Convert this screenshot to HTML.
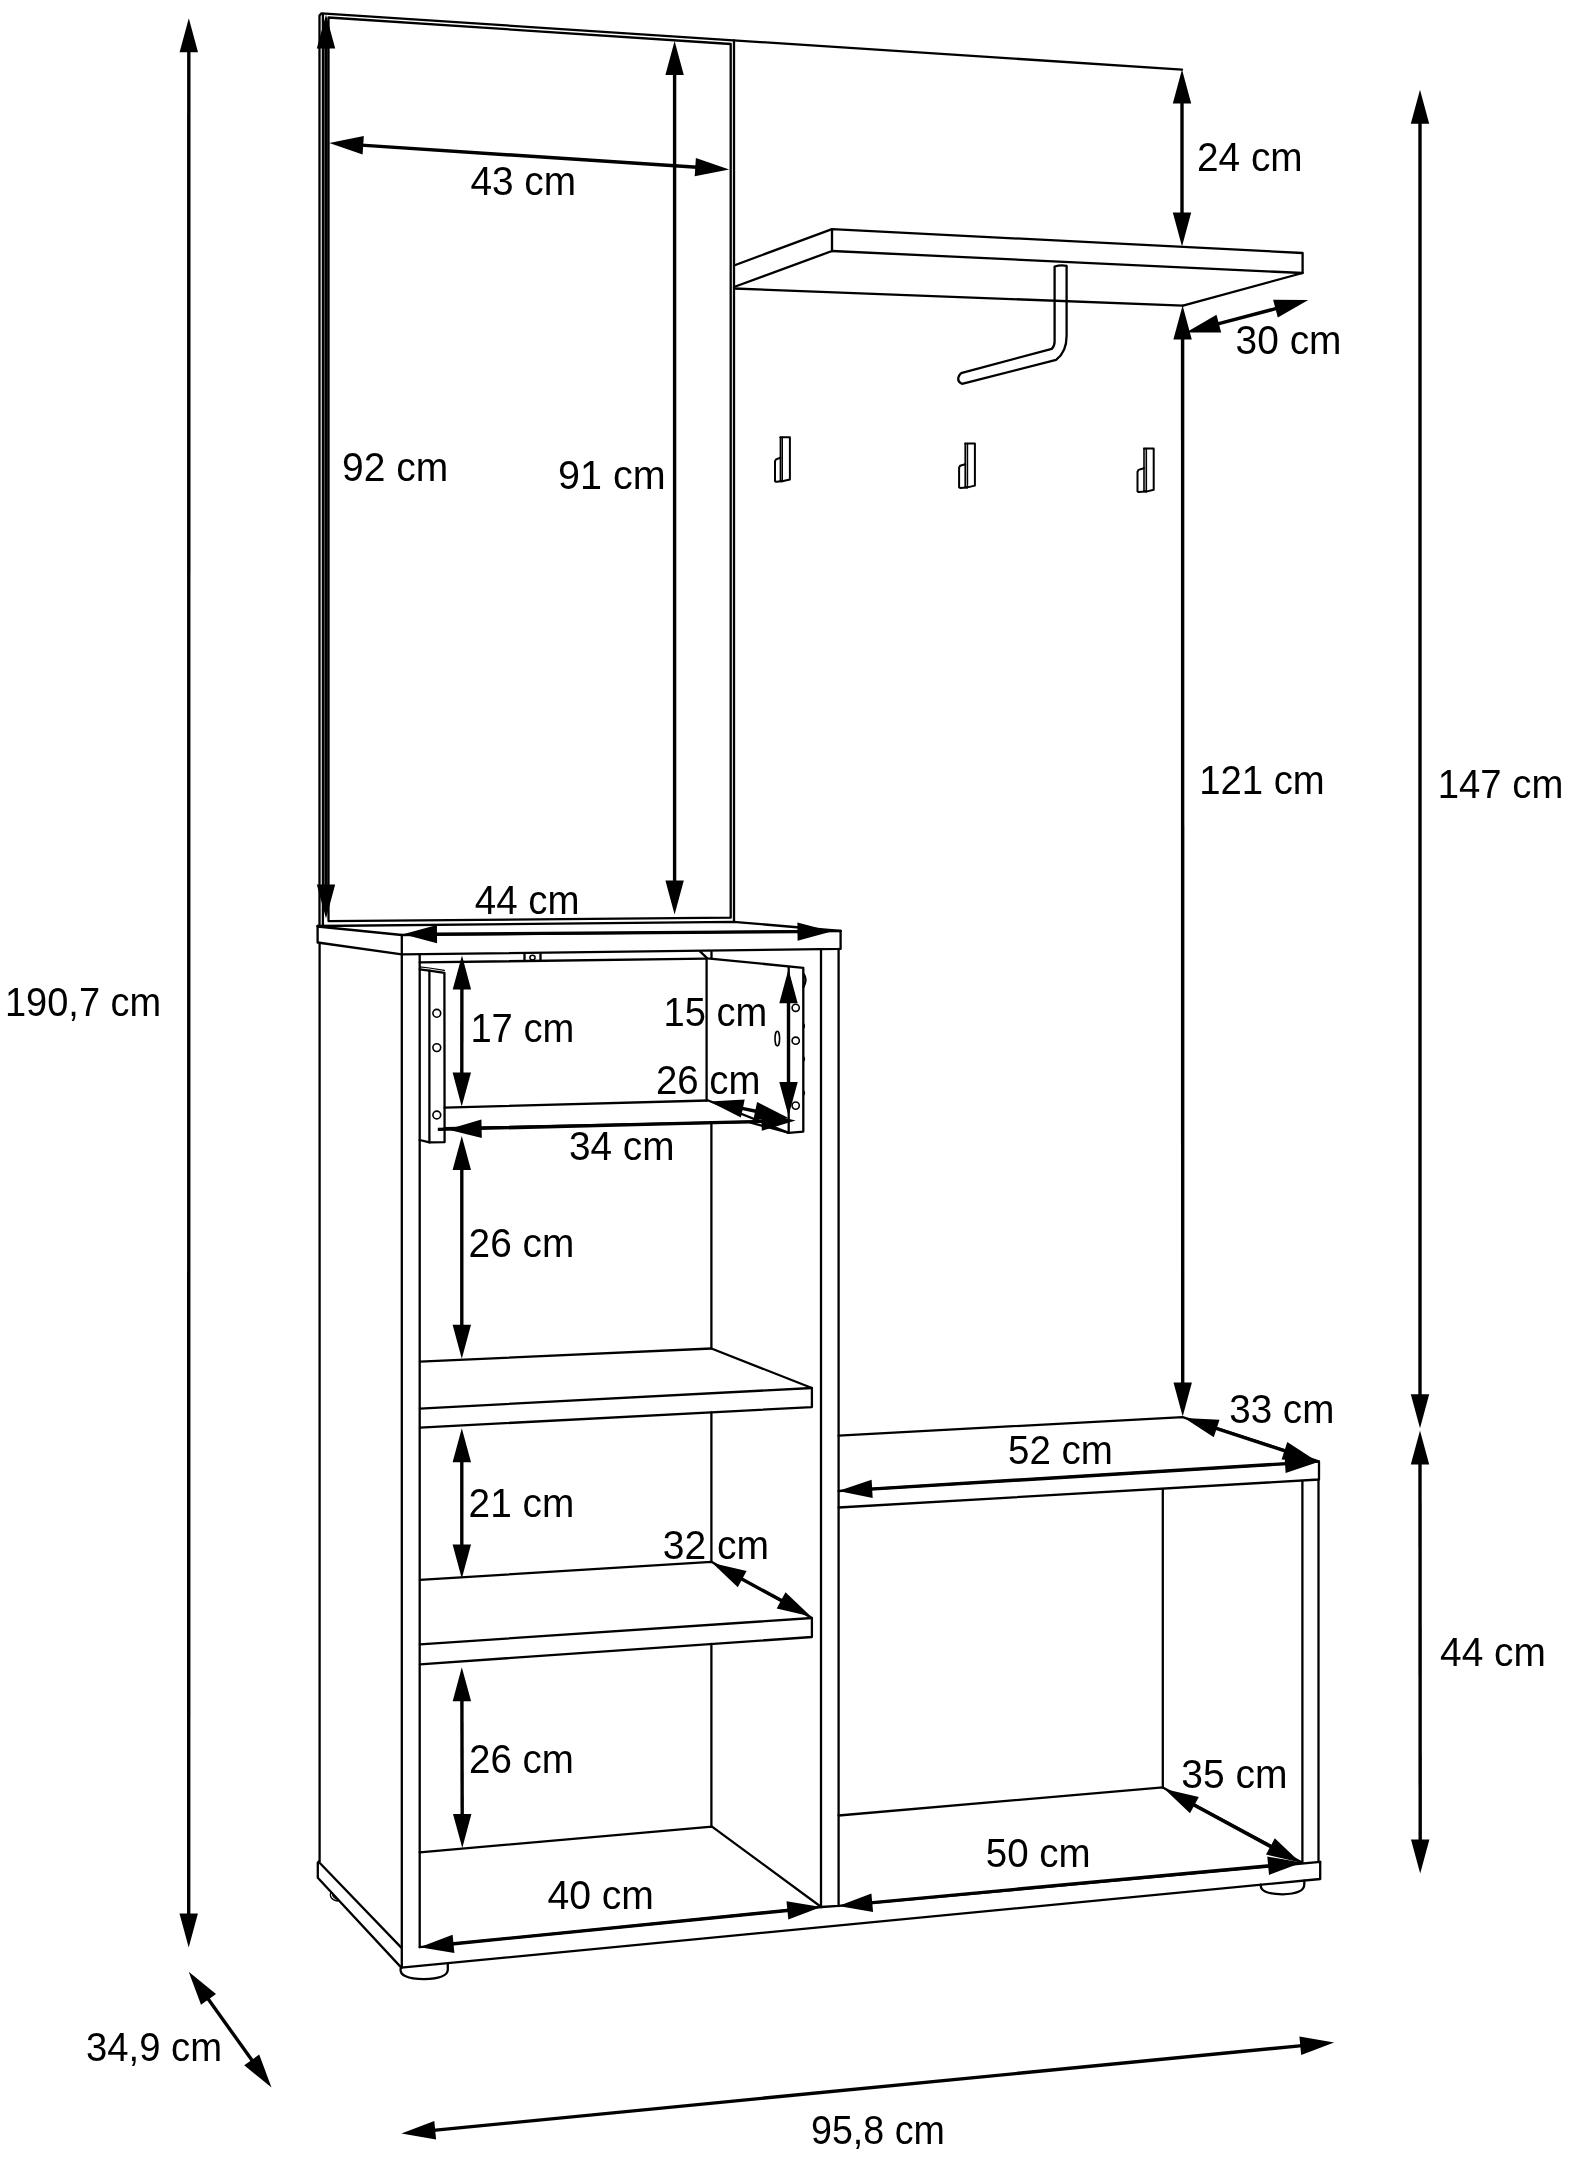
<!DOCTYPE html>
<html><head><meta charset="utf-8"><title>Dimensions</title>
<style>
html,body{margin:0;padding:0;background:#fff;}
body{width:1570px;height:2162px;overflow:hidden;}
svg{display:block;filter:grayscale(1);}
.o path,.o circle,.o ellipse{fill:none;stroke:#000;stroke-linejoin:round;stroke-linecap:round;}
.o path.a{stroke-linecap:butt;}
.o path.h{fill:#000;stroke:none;}
.t text{font-family:"Liberation Sans",sans-serif;fill:#000;}
</style></head><body>
<svg width="1570" height="2162" viewBox="0 0 1570 2162">
<rect width="1570" height="2162" fill="#fff"/>
<g class="o" stroke-width="2.3">
<path d="M319.5,925.7 L319.5,15.5 L321.5,13.4 L1182,69.6"/>
<path d="M322.9,925.7 L322.9,15"/>
<path d="M328.5,921.1 L328.5,17.5 L730.7,44 L730.7,917.7Z"/>
<path d="M734,40.4 L734,921.8"/>
<path d="M317.6,926 L733.6,921.8 L840.6,931"/>
<path d="M734,265.5 L832,229.1 L1302.6,253 L1302.6,273 L1183,305.6"/>
<path d="M734,287 L832,251 L1302.6,273"/>
<path d="M832,229.1 L832,251.3"/>
<path d="M734,288.5 L1183,305.6"/>
<path d="M1054.6,266.5 Q1060.6,264.8 1066.6,265.8 L1066.6,336 Q1066.6,352 1056.1,359.9 L962,383.8 Q957.5,382 958.4,377.5 Q959.5,373.8 962,372.8 L1051.8,348.9 Q1054.6,346 1054.6,341.7 Z" fill="#fff"/>
<path d="M780.4,437.2 L789.9,437.2 L789.9,479.5 L782.2,481.3 L780.4,480.8" stroke-width="2"/>
<path d="M780.4,437.2 L780.4,480.3" stroke-width="1.6"/>
<path d="M782.2,437.2 L782.2,481.3" stroke-width="1.6"/>
<path d="M780.4,457.8 L776,459.4 L775,461.2 L775,481.2 L776,481.8 L782.2,481.3" stroke-width="2"/>
<path d="M965.2,443.5 L974.9,443.5 L974.9,485.6 L967.4,487.4 L965.2,486.9" stroke-width="2"/>
<path d="M965.2,443.5 L965.2,486.4" stroke-width="1.6"/>
<path d="M967.4,443.5 L967.4,487.4" stroke-width="1.6"/>
<path d="M965.2,464.2 L960.1,465.8 L959.1,467.6 L959.1,487.3 L960.1,487.9 L967.4,487.4" stroke-width="2"/>
<path d="M1144,448.6 L1153.7,448.6 L1153.7,489.8 L1146.3,491.6 L1144,491.1" stroke-width="2"/>
<path d="M1144,448.6 L1144,490.6" stroke-width="1.6"/>
<path d="M1146.3,448.6 L1146.3,491.6" stroke-width="1.6"/>
<path d="M1144,468.3 L1138.5,469.9 L1137.5,471.7 L1137.5,491.5 L1138.5,492.1 L1146.3,491.6" stroke-width="2"/>
<path d="M317.6,926 L317.6,942.5 L401.8,954.4 L840.6,948.9 L840.6,931"/>
<path d="M317.6,926.5 L401.8,935 L840.6,931"/>
<path d="M401.8,935 L401.8,1967.6"/>
<path d="M319.6,943 L319.6,1861.2"/>
<path d="M419.7,954.5 L419.7,1947.2"/>
<path d="M821,949.6 L821,1907"/>
<path d="M838.6,949 L838.6,1906"/>
<path d="M419.7,962.4 L705.9,958.7"/>
<path d="M700.3,951.7 L707.3,958.4 L803.3,967.8 L803.3,1131.6 L788.7,1132.8"/>
<path d="M711.5,952 L711.5,958.2"/>
<path d="M524.5,954.6 L524.5,960.7"/>
<path d="M540.5,954.4 L540.5,960.5"/>
<ellipse cx="532.5" cy="957.6" rx="2.6" ry="2.4" stroke-width="1.5"/>
<path d="M706.6,958.7 L706.6,1100.5"/>
<path d="M419.7,969.3 L429.4,970.6 L444.4,972.8 L444.6,1142.2 L429.4,1142.4 L419.7,1140"/>
<path d="M419.7,966.8 L429.4,968 L444.4,970.3" stroke-width="1.2"/>
<path d="M429.4,970.6 L429.4,1142.4"/>
<circle cx="436.8" cy="1013.3" r="3.9" stroke-width="1.6"/>
<circle cx="436.8" cy="1047.6" r="3.9" stroke-width="1.6"/>
<circle cx="436.8" cy="1115" r="3.9" stroke-width="1.6"/>
<path d="M788.7,967.4 L788.7,1132.8"/>
<circle cx="795.7" cy="1007.8" r="3.6" stroke-width="1.6"/>
<circle cx="795.7" cy="1040.7" r="3.6" stroke-width="1.6"/>
<circle cx="795.7" cy="1105.6" r="3.6" stroke-width="1.6"/>
<ellipse cx="777.3" cy="1038.6" rx="2.3" ry="7.3" stroke-width="1.6"/>
<path d="M803.6,974 Q807.5,979 803.6,987" stroke-width="2.2"/>
<path d="M803.6,1024 q1.6,2 0,4" stroke-width="1.5"/>
<path d="M803.6,1057 q1.6,2 0,4" stroke-width="1.5"/>
<path d="M803.6,1091 q1.6,2 0,4" stroke-width="1.5"/>
<path d="M444.6,1107.6 L708.3,1100.5 L787.9,1132.6"/>
<path d="M444.6,1128.2 L748,1122 L788.5,1132.6"/>
<path d="M711.4,1124.4 L711.4,1348.5"/>
<path d="M711.4,1412.4 L711.4,1561.8"/>
<path d="M711.4,1644 L711.4,1826.6"/>
<path d="M419.9,1361.7 L711.4,1348.5 L811.9,1388 L811.9,1407.1 L419.9,1427.6"/>
<path d="M419.9,1408.6 L811.9,1388"/>
<path d="M419.9,1579.9 L711.4,1561.8 L811.9,1618 L811.9,1637 L419.9,1664.3"/>
<path d="M419.9,1644.4 L811.9,1618"/>
<path d="M419.7,1852.3 L712,1826.6 L821.2,1907"/>
<path d="M419.7,1947.2 L821.2,1907 L838.4,1905.9 L1320.2,1861.9"/>
<path d="M319.1,1861.2 L317.8,1862.6 L317.8,1877.8 L401.3,1967.6 L1320.2,1879 L1320.2,1861.9"/>
<path d="M319.1,1862.3 L401.3,1947.6"/>
<path d="M400.6,1968.6 Q399,1978.6 424,1979.2 Q447.6,1978.6 447.8,1969.8 L447.8,1963.5"/>
<path d="M330.9,1891.6 Q328.3,1899.5 337.8,1901.2 L338.4,1899.6 Q331.6,1898 332.6,1893.2 Z" stroke-width="1.2" fill="#000"/>
<path d="M1260.8,1884.6 Q1259.6,1894 1282.5,1894.3 Q1304.5,1894 1304.3,1884 L1304.3,1880.6"/>
<path d="M838.6,1435.6 L1182.7,1417.1 L1318.8,1461.4"/>
<path d="M838.6,1491 L1319,1461.7 L1319,1479.5 L838.6,1507.5"/>
<path d="M1162.8,1489.7 L1162.8,1787.4"/>
<path d="M1302.4,1481.4 L1302.4,1862.6"/>
<path d="M1318.5,1479.5 L1318.5,1862"/>
<path d="M838.6,1815.5 L1162.8,1787.4 L1302,1862.6"/>
<path class="a" d="M188.8,50.2 L188.7,1915.5" stroke-width="3.4"/>
<path class="h" d="M188.7,1947.5 L179.5,1913.5 L197.9,1913.5Z"/>
<path class="h" d="M188.8,18.2 L198,52.2 L179.6,52.2Z"/>
<path class="a" d="M326,46.6 L326,886.6" stroke-width="3.4"/>
<path class="h" d="M326,918.6 L316.8,884.6 L335.2,884.6Z"/>
<path class="h" d="M326,14.6 L335.2,48.6 L316.8,48.6Z"/>
<path class="a" d="M361.2,145.1 L697.3,167.3" stroke-width="3.4"/>
<path class="h" d="M729.2,169.4 L694.7,176.3 L695.9,158Z"/>
<path class="h" d="M329.3,143 L363.8,136.1 L362.6,154.4Z"/>
<path class="a" d="M674.6,73 L674.6,882.6" stroke-width="3.4"/>
<path class="h" d="M674.6,914.6 L665.4,880.6 L683.8,880.6Z"/>
<path class="h" d="M674.6,41 L683.8,75 L665.4,75Z"/>
<path class="a" d="M1182,101.6 L1182,214.4" stroke-width="3.4"/>
<path class="h" d="M1182,246.4 L1172.8,212.4 L1191.2,212.4Z"/>
<path class="h" d="M1182,69.6 L1191.2,103.6 L1172.8,103.6Z"/>
<path class="a" d="M1216.9,324.2 L1277.4,308.2" stroke-width="3.4"/>
<path class="h" d="M1308.3,300 L1277.8,317.6 L1273.1,299.8Z"/>
<path class="h" d="M1186,332.4 L1216.5,314.8 L1221.2,332.6Z"/>
<path class="a" d="M1182.6,337.6 L1182.7,1384.4" stroke-width="3.4"/>
<path class="h" d="M1182.7,1416.4 L1173.5,1382.4 L1191.9,1382.4Z"/>
<path class="h" d="M1182.6,305.6 L1191.8,339.6 L1173.4,339.6Z"/>
<path class="a" d="M1420,121.8 L1420,1396.3" stroke-width="3.4"/>
<path class="h" d="M1420,1428.3 L1410.8,1394.3 L1429.2,1394.3Z"/>
<path class="h" d="M1420,89.8 L1429.2,123.8 L1410.8,123.8Z"/>
<path class="a" d="M1420,1462.5 L1420.2,1841.5" stroke-width="3.4"/>
<path class="h" d="M1420.2,1873.5 L1411,1839.5 L1429.4,1839.5Z"/>
<path class="h" d="M1420,1430.5 L1429.2,1464.5 L1410.8,1464.5Z"/>
<path class="a" d="M435,934.1 L799.5,931.6" stroke-width="3.4"/>
<path class="h" d="M831.5,931.4 L797.6,940.8 L797.4,922.4Z"/>
<path class="h" d="M403,934.3 L436.9,924.9 L437.1,943.3Z"/>
<path class="a" d="M461.9,987.5 L461.8,1074.5" stroke-width="3.4"/>
<path class="h" d="M461.7,1106.5 L452.6,1072.5 L471,1072.5Z"/>
<path class="h" d="M462,955.5 L471.1,989.5 L452.7,989.5Z"/>
<path class="a" d="M788.5,1001.2 L788.5,1084" stroke-width="3.4"/>
<path class="h" d="M788.5,1116 L779.3,1082 L797.7,1082Z"/>
<path class="h" d="M788.5,969.2 L797.7,1003.2 L779.3,1003.2Z"/>
<path class="a" d="M740.8,1108.1 L757.2,1111.5" stroke-width="3.4"/>
<path class="h" d="M788.5,1118.1 L753.3,1120.1 L757.1,1102.1Z"/>
<path class="h" d="M709.5,1101.5 L744.7,1099.5 L740.9,1117.5Z"/>
<path class="a" d="M437.8,1129.4 L763.6,1121.4" stroke-width="3.4"/>
<path class="h" d="M795.6,1120.6 L761.8,1130.7 L761.4,1112.3Z"/>
<path class="h" d="M447.6,1129.6 L481.4,1119.5 L481.8,1137.9Z"/>
<path class="a" d="M461.8,1168.1 L461.8,1326.8" stroke-width="3.4"/>
<path class="h" d="M461.8,1358.8 L452.6,1324.8 L471,1324.8Z"/>
<path class="h" d="M461.8,1136.1 L471,1170.1 L452.6,1170.1Z"/>
<path class="a" d="M461.8,1460.2 L461.8,1546.5" stroke-width="3.4"/>
<path class="h" d="M461.8,1578.5 L452.6,1544.5 L471,1544.5Z"/>
<path class="h" d="M461.8,1428.2 L471,1462.2 L452.6,1462.2Z"/>
<path class="a" d="M740.4,1578.3 L782.9,1601.3" stroke-width="3.4"/>
<path class="h" d="M811,1616.6 L776.7,1608.5 L785.5,1592.3Z"/>
<path class="h" d="M712.3,1563 L746.6,1571.1 L737.8,1587.3Z"/>
<path class="a" d="M461.9,1699.3 L462.2,1816" stroke-width="3.4"/>
<path class="h" d="M462.3,1848 L453,1814 L471.4,1814Z"/>
<path class="h" d="M461.8,1667.3 L471.1,1701.3 L452.7,1701.3Z"/>
<path class="a" d="M451.5,1944 L789.4,1910.2" stroke-width="3.4"/>
<path class="h" d="M821.2,1907 L788.3,1919.5 L786.5,1901.2Z"/>
<path class="h" d="M419.7,1947.2 L452.6,1934.7 L454.4,1953Z"/>
<path class="a" d="M870.1,1489.1 L1287.1,1463.6" stroke-width="3.4"/>
<path class="h" d="M1319,1461.7 L1285.6,1473 L1284.5,1454.6Z"/>
<path class="h" d="M838.2,1491 L871.6,1479.7 L872.7,1498.1Z"/>
<path class="a" d="M1214.7,1427.9 L1286.4,1451.3" stroke-width="3.4"/>
<path class="h" d="M1316.8,1461.2 L1281.6,1459.4 L1287.3,1441.9Z"/>
<path class="h" d="M1184.3,1418 L1219.5,1419.8 L1213.8,1437.3Z"/>
<path class="a" d="M1192.6,1804.2 L1272.2,1847.4" stroke-width="3.4"/>
<path class="h" d="M1300.3,1862.6 L1266,1854.5 L1274.8,1838.3Z"/>
<path class="h" d="M1164.5,1789 L1198.8,1797.1 L1190,1813.3Z"/>
<path class="a" d="M870.3,1902.9 L1270.1,1865.6" stroke-width="3.4"/>
<path class="h" d="M1302,1862.6 L1269,1874.9 L1267.3,1856.6Z"/>
<path class="h" d="M838.4,1905.9 L871.4,1893.6 L873.1,1911.9Z"/>
<path class="a" d="M207.3,1997.7 L252.9,2061.6" stroke-width="3.4"/>
<path class="h" d="M271.5,2087.6 L244.2,2065.3 L259.2,2054.6Z"/>
<path class="h" d="M188.7,1971.7 L216,1994 L201,2004.7Z"/>
<path class="a" d="M433.2,2130.4 L1302.3,2045.6" stroke-width="3.4"/>
<path class="h" d="M1334.1,2042.5 L1301.2,2055 L1299.4,2036.6Z"/>
<path class="h" d="M401.4,2133.5 L434.3,2121 L436.1,2139.4Z"/>
</g>
<g class="t">
<text x="470.4" y="194.8" textLength="105.7" lengthAdjust="spacingAndGlyphs" font-size="40.6">43 cm</text>
<text x="1197" y="171" textLength="105.7" lengthAdjust="spacingAndGlyphs" font-size="40.6">24 cm</text>
<text x="1235.6" y="353.8" textLength="105.9" lengthAdjust="spacingAndGlyphs" font-size="40.6">30 cm</text>
<text x="342" y="481" textLength="106.1" lengthAdjust="spacingAndGlyphs" font-size="40.6">92 cm</text>
<text x="558" y="488.8" textLength="107.6" lengthAdjust="spacingAndGlyphs" font-size="40.6">91 cm</text>
<text x="1199.2" y="794.2" textLength="125.5" lengthAdjust="spacingAndGlyphs" font-size="40.6">121 cm</text>
<text x="1437.8" y="798.4" textLength="125.5" lengthAdjust="spacingAndGlyphs" font-size="40.6">147 cm</text>
<text x="474.8" y="913.6" textLength="104.7" lengthAdjust="spacingAndGlyphs" font-size="40.6">44 cm</text>
<text x="5" y="1016.4" textLength="156.2" lengthAdjust="spacingAndGlyphs" font-size="40.6">190,7 cm</text>
<text x="470.4" y="1042" textLength="103.9" lengthAdjust="spacingAndGlyphs" font-size="40.6">17 cm</text>
<text x="663.6" y="1026.2" textLength="103.7" lengthAdjust="spacingAndGlyphs" font-size="40.6">15 cm</text>
<text x="656" y="1093.6" textLength="104.5" lengthAdjust="spacingAndGlyphs" font-size="40.6">26 cm</text>
<text x="569" y="1159.6" textLength="105.5" lengthAdjust="spacingAndGlyphs" font-size="40.6">34 cm</text>
<text x="468.6" y="1257.2" textLength="105.7" lengthAdjust="spacingAndGlyphs" font-size="40.6">26 cm</text>
<text x="1229.2" y="1423.2" textLength="105.1" lengthAdjust="spacingAndGlyphs" font-size="40.6">33 cm</text>
<text x="1008" y="1464" textLength="104.9" lengthAdjust="spacingAndGlyphs" font-size="40.6">52 cm</text>
<text x="468.6" y="1517" textLength="105.7" lengthAdjust="spacingAndGlyphs" font-size="40.6">21 cm</text>
<text x="662.8" y="1559.4" textLength="106.3" lengthAdjust="spacingAndGlyphs" font-size="40.6">32 cm</text>
<text x="1440" y="1666" textLength="105.9" lengthAdjust="spacingAndGlyphs" font-size="40.6">44 cm</text>
<text x="469" y="1772.6" textLength="104.9" lengthAdjust="spacingAndGlyphs" font-size="40.6">26 cm</text>
<text x="1181.2" y="1788" textLength="106.3" lengthAdjust="spacingAndGlyphs" font-size="40.6">35 cm</text>
<text x="985.8" y="1867" textLength="104.9" lengthAdjust="spacingAndGlyphs" font-size="40.6">50 cm</text>
<text x="547.4" y="1908.6" textLength="106.5" lengthAdjust="spacingAndGlyphs" font-size="40.6">40 cm</text>
<text x="86" y="2061.4" textLength="136" lengthAdjust="spacingAndGlyphs" font-size="40.6">34,9 cm</text>
<text x="811" y="2144" textLength="133.9" lengthAdjust="spacingAndGlyphs" font-size="40.6">95,8 cm</text>
</g>
</svg>
</body></html>
